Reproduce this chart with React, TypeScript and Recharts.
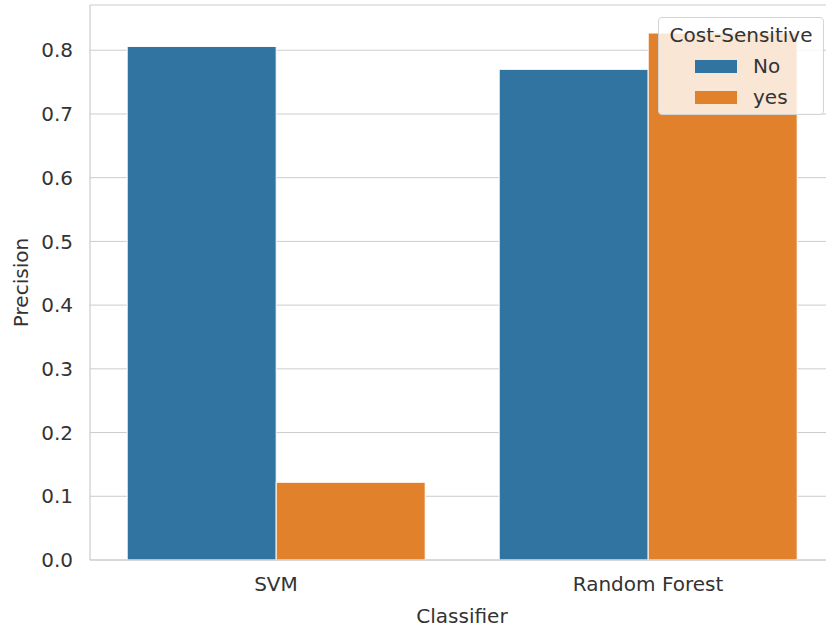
import { Bar, BarChart, CartesianGrid, Legend, XAxis, YAxis } from "recharts";

// precision per classifier, with and without cost-sensitive training
const classifiers = ["SVM", "Random Forest"];
const precisionNo = [0.806, 0.77];
const precisionYes = [0.122, 0.827];
const yTicks = [0, 0.1, 0.2, 0.3, 0.4, 0.5, 0.6, 0.7, 0.8];

const data = classifiers.map((name, i) => ({
  name,
  No: precisionNo[i],
  yes: precisionYes[i],
}));

const FONT = "'DejaVu Sans', sans-serif";
const TEXT = "#333333";
const SPINE = "#cccccc";

function LegendBox({ payload }: any) {
  return (
    <div
      style={{
        boxSizing: "border-box",
        width: 166,
        height: 98,
        paddingTop: 2,
        background: "rgba(255,255,255,0.8)",
        border: "1px solid #d4d4d4",
        borderRadius: 4,
        fontFamily: FONT,
        fontSize: 20,
        color: TEXT,
      }}
    >
      <div style={{ height: 31, lineHeight: "31px", textAlign: "center" }}>Cost-Sensitive</div>
      {(payload || []).map((p: any) => (
        <div
          key={p.value}
          style={{ height: 31, lineHeight: "31px", display: "flex", alignItems: "center", paddingLeft: 36 }}
        >
          <span
            style={{
              display: "inline-block",
              width: 42,
              height: 13,
              background: p.color,
              marginRight: 16,
            }}
          />
          <span>{p.value}</span>
        </div>
      ))}
    </div>
  );
}

export default function App() {
  return (
    <div style={{ position: "absolute", left: 0, top: 0, width: 826, height: 629, overflow: "hidden", background: "#fff" }}>
      <BarChart
        width={850}
        height={629}
        data={data}
        margin={{ top: 5, right: 16, left: 0, bottom: 0 }}
        barCategoryGap="10%"
        barGap={0}
      >
        <CartesianGrid vertical={false} stroke={SPINE} strokeWidth={1} />
        <XAxis
          dataKey="name"
          height={69}
          axisLine={{ stroke: SPINE, strokeWidth: 1.2 }}
          tickLine={false}
          tickSize={0}
          tickMargin={17}
          tick={{ fill: TEXT, fontSize: 20, fontFamily: FONT }}
          label={{ value: "Classifier", position: "insideBottom", offset: 6, fill: TEXT, fontSize: 20, fontFamily: FONT }}
        />
        <XAxis xAxisId="top" orientation="top" dataKey="name" height={0} tick={false} tickLine={false} axisLine={{ stroke: SPINE, strokeWidth: 1.2 }} />
        <YAxis
          width={90}
          domain={[0, 0.871]}
          ticks={yTicks}
          allowDataOverflow
          axisLine={{ stroke: SPINE, strokeWidth: 1.2 }}
          tickLine={false}
          tickSize={0}
          tickMargin={17}
          tickFormatter={(v: number) => v.toFixed(1)}
          tick={{ fill: TEXT, fontSize: 20, fontFamily: FONT }}
          label={{
            content: ({ viewBox }: any) => {
              const cy = viewBox.y + viewBox.height / 2;
              const x = 28;
              return (
                <text x={x} y={cy} transform={`rotate(-90, ${x}, ${cy})`} textAnchor="middle" fill={TEXT} fontSize={20} fontFamily={FONT}>
                  Precision
                </text>
              );
            },
          }}
        />
        <Legend
          layout="horizontal"
          verticalAlign="middle"
          align="center"
          content={<LegendBox />}
          wrapperStyle={{ position: "absolute", top: 17, left: 658, width: 166, height: 98 }}
        />
        <Bar dataKey="No" fill="#3274a1" stroke="#ffffff" strokeWidth={1} isAnimationActive={false} />
        <Bar dataKey="yes" fill="#e1812c" stroke="#ffffff" strokeWidth={1} isAnimationActive={false} />
      </BarChart>
    </div>
  );
}
